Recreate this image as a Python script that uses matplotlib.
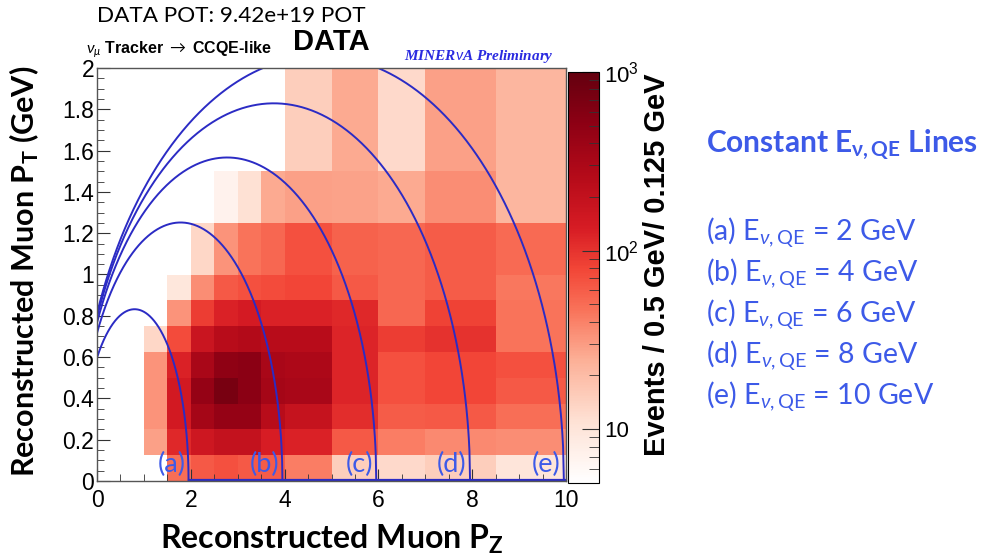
import numpy as np
import matplotlib.pyplot as plt
from matplotlib.colors import LinearSegmentedColormap, LogNorm
from matplotlib.ticker import MultipleLocator, FixedLocator, NullFormatter

plt.rcParams['mathtext.fontset'] = 'custom'
plt.rcParams['mathtext.rm'] = 'Lato'
plt.rcParams['mathtext.bf'] = 'Lato:bold'
plt.rcParams['mathtext.it'] = 'Lato:italic'

# bin edges (GeV)
pz_edges = [0, 1.0, 1.5, 2.0, 2.5, 3.0, 3.5, 4.0, 4.5, 5.0, 6.0, 7.0, 8.5, 10.0]
pt_edges = [0, 0.125, 0.25, 0.375, 0.5, 0.625, 0.75, 0.875, 1.0, 1.25, 1.5, 2.0]

# events per bin, one row per pT bin (bottom to top), 0 = empty
row_00 = [0, 0, 49, 63, 70, 63, 60, 42, 42, 15, 12.5, 15, 10]
row_01 = [0, 29, 114, 165, 195, 195, 134, 126, 126, 63, 42, 37, 35]
row_02 = [0, 33, 148, 346, 451, 451, 240, 190, 190, 108, 60, 63, 49]
row_03 = [0, 33, 148, 451, 720, 530, 346, 315, 315, 120, 70, 79, 63]
row_04 = [0, 33, 126, 315, 500, 530, 315, 300, 300, 120, 70, 79, 70]
row_05 = [0, 13, 75, 173, 240, 266, 240, 240, 240, 120, 88, 102, 46]
row_06 = [0, 0, 33, 88, 126, 140, 126, 126, 126, 114, 54, 83, 46]
row_07 = [0, 0, 9.5, 35, 63, 70, 75, 79, 79, 63, 54, 60, 44]
row_08 = [0, 0, 0, 13, 33, 46, 54, 70, 70, 57, 54, 60, 51]
row_09 = [0, 0, 0, 0, 7, 11, 26, 29, 29, 28, 26, 35, 22]
row_10 = [0, 0, 0, 0, 0, 0, 0, 15, 15, 26, 12.5, 29, 22]
counts = np.array([row_00, row_01, row_02, row_03, row_04, row_05,
                   row_06, row_07, row_08, row_09, row_10], dtype=float)

# constant neutrino energy lines (GeV)
energies = [2, 4, 6, 8, 10]
line_tags = ['(a)', '(b)', '(c)', '(d)', '(e)']

M_n = 0.93957 - 0.045   # neutron mass minus binding energy
M_p = 0.93827
m_mu = 0.10566

reds = LinearSegmentedColormap.from_list('root_reds', [
    (0.0, (1.0, 1.0, 1.0)),
    (0.15, (254/255, 225/255, 212/255)),
    (0.3, (252/255, 175/255, 150/255)),
    (0.42, (249/255, 115/255, 90/255)),
    (0.52, (242/255, 70/255, 55/255)),
    (0.62, (215/255, 28/255, 36/255)),
    (0.75, (180/255, 10/255, 25/255)),
    (0.88, (140/255, 0, 20/255)),
    (1.0, (100/255, 0, 15/255))])

fig = plt.figure(figsize=(9.81, 5.58), dpi=100)
ax = fig.add_axes([97/981, 1 - 481/558, 469/981, 413/558])
cax = fig.add_axes([568/981, 1 - 483/558, 31/981, 411/558])

data = np.ma.masked_where(counts <= 0, counts)
mesh = ax.pcolormesh(pz_edges, pt_edges, data, cmap=reds,
                     norm=LogNorm(vmin=5, vmax=1000))

line_blue = '#2b2bc4'
text_blue = '#3d5ae8'
C = M_n**2 + m_mu**2 - M_p**2
for E, tag in zip(energies, line_tags):
    a = (2*E*M_n + C) / (2*(M_n + E))
    b = E / (M_n + E)
    qa, qb, qc = b*b - 1, 2*a*b, a*a - m_mu**2
    root = (-qb - np.sqrt(qb*qb - 4*qa*qc)) / (2*qa)
    pz = np.linspace(0, root, 600)
    pt = np.sqrt(np.clip((a + b*pz)**2 - pz**2 - m_mu**2, 0, None))
    ax.plot(pz, pt, color=line_blue, lw=1.4)
    ax.text(root - 0.07, 0.08, tag, color=text_blue, fontsize=19.5,
            family='Lato', ha='right', va='center')
    if E == energies[0]:
        ax.plot([root, 10], [0.004, 0.004], color=line_blue, lw=1.6, clip_on=False)

ax.set_xlim(0, 10)
ax.set_ylim(0, 2)
ax.xaxis.set_major_locator(MultipleLocator(2))
ax.xaxis.set_minor_locator(MultipleLocator(0.5))
ax.yaxis.set_major_locator(MultipleLocator(0.2))
ax.yaxis.set_minor_locator(MultipleLocator(0.05))
ax.yaxis.set_major_formatter(plt.FuncFormatter(lambda v, p: '%g' % round(v, 2)))
ax.tick_params(which='both', direction='in', labelsize=16.5, color='#333333',
               top=False, right=False)
ax.tick_params(which='major', length=9)
ax.tick_params(which='minor', length=5)
ax.tick_params(axis='x', pad=6)
ax.tick_params(axis='y', pad=2)
for lab in ax.get_xticklabels() + ax.get_yticklabels():
    lab.set_family('Liberation Sans')
for s in ax.spines.values():
    s.set_color('#555555')
    s.set_linewidth(1.0)

fig.text(332/981, 1 - 539/558, r'Reconstructed Muon P$_\mathbf{Z}$', family='Lato',
         fontweight='bold', fontsize=23, ha='center', va='center')
fig.text(24/981, 1 - 271/558, r'Reconstructed Muon P$_\mathbf{T}$ (GeV)', family='Lato',
         fontweight='bold', fontsize=22, rotation=90, ha='center', va='center')

cb = fig.colorbar(mesh, cax=cax)
cb.outline.set_linewidth(0.8)
cax.yaxis.set_major_locator(FixedLocator([10, 100, 1000]))
cax.yaxis.set_minor_locator(FixedLocator(
    [k * d for d in (1, 10, 100) for k in range(2, 10) if 5 <= k * d <= 1000]))
cax.yaxis.set_minor_formatter(NullFormatter())
cax.set_yticklabels(['10', r'$\mathregular{10^2}$', r'$\mathregular{10^3}$'],
                    family='Liberation Sans', fontsize=16)
cax.tick_params(which='both', direction='in', color='#333333')
cax.tick_params(which='major', length=12)
cax.tick_params(which='minor', length=7)
fig.text(657/981, 1 - 265/558, 'Events / 0.5 GeV/ 0.125 GeV', rotation=90,
         family='Liberation Sans', fontweight='bold', fontsize=21,
         ha='center', va='center')

# header texts
fig.text(97/981, 1 - 16/558, 'DATA POT: 9.42e+19 POT', family='Lato',
         fontsize=16.2, ha='left', va='center')
fig.text(331/981, 1 - 42/558, 'DATA', family='Liberation Sans',
         fontweight='bold', fontsize=21, ha='center', va='center')
fig.text(86/981, 1 - 50/558, r'$\nu_\mu$ Tracker $\rightarrow$ CCQE-like',
         family='Liberation Sans', fontweight='bold', fontsize=11.5,
         ha='left', va='center')
fig.text(404/981, 1 - 56/558, r'MINER$\nu$A Preliminary', family='Liberation Serif',
         fontweight='bold', style='italic', fontsize=11, color='#2a2ae0',
         ha='left', va='center')

# legend of lines on the right
fig.text(706/981, 1 - 145/558, r'Constant E$_{\mathbf{\nu,QE}}$ Lines',
         family='Lato', fontweight='bold', fontsize=21.5, color=text_blue,
         ha='left', va='center')
for i, (E, tag) in enumerate(zip(energies, line_tags)):
    fig.text(706/981, 1 - (233 + 41*i)/558,
             tag + r' E$_{\nu\mathrm{,QE}}$ = %d GeV' % E,
             family='Lato', fontsize=20.5, color=text_blue,
             ha='left', va='center')

fig.savefig('out.png', dpi=100)
